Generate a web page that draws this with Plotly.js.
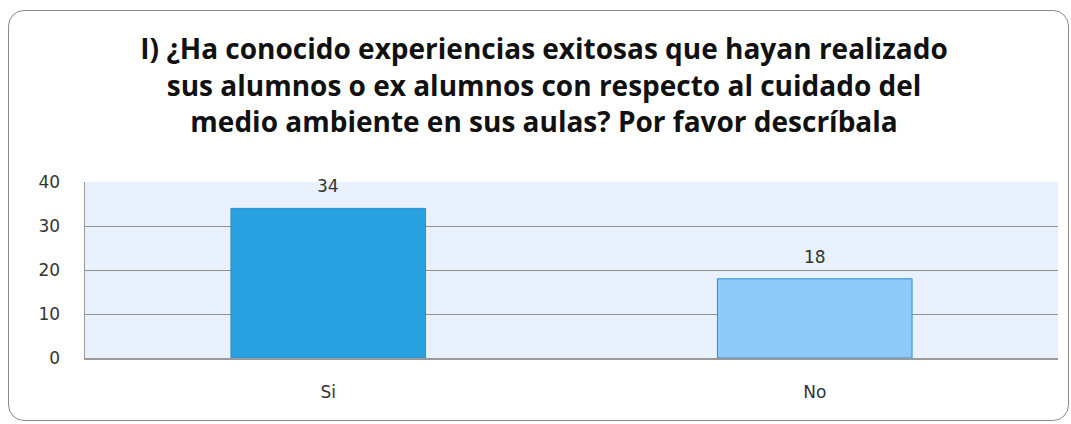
<!DOCTYPE html>
<html>
<head>
<meta charset="utf-8">
<script src="https://cdn.plot.ly/plotly-3.0.1.min.js"></script>
<style>
  html, body { margin: 0; padding: 0; background: #ffffff; }
  #wrap { position: relative; width: 1071px; height: 424px; overflow: hidden; }
  #frame { position: absolute; left: 8px; top: 10px; width: 1061px; height: 411px;
           border: 1px solid #8a8a8a; border-radius: 16px; box-sizing: border-box; }
  #chart { position: absolute; left: 0; top: 0; width: 1071px; height: 424px; }
</style>
</head>
<body>
<div id="wrap">
  <div id="frame"></div>
  <div id="chart"></div>
</div>
<script>
const categories = ["Si", "No"];
const values = [34, 18];
const barColors = ["#29A0E0", "#8DCAFA"];
const yTickValues = [0, 10, 20, 30, 40];
const titleText = "I) ¿Ha conocido experiencias exitosas que hayan realizado<br>sus alumnos o ex alumnos con respecto al cuidado del<br>medio ambiente en sus aulas? Por favor descríbala";

const trace = {
  type: "bar",
  x: categories,
  y: values,
  marker: { color: barColors, line: { color: "#2B8ED0", width: 1 } },
  hoverinfo: "none"
};

const annotations = categories.map((c, i) => ({
  x: c, y: values[i], xref: "x", yref: "y",
  text: String(values[i]), showarrow: false,
  yanchor: "bottom", yshift: 10,
  font: { family: "DejaVu Sans, Verdana, sans-serif", size: 17, color: "#333333" }
}));

const layout = {
  width: 1071, height: 424,
  margin: { l: 85, r: 13, t: 182, b: 66 },
  paper_bgcolor: "rgba(0,0,0,0)",
  plot_bgcolor: "#E8F1FC",
  bargap: 0.6,
  showlegend: false,
  title: {
    text: titleText,
    xref: "container", yref: "container",
    x: 0.508, xanchor: "center",
    y: 0.86, yanchor: "top",
    font: { family: "Open Sans, Lato, sans-serif", size: 28, color: "#111111", weight: "bold" }
  },
  xaxis: {
    type: "category",
    showline: true, linecolor: "#9a9a9a", linewidth: 1.5,
    showgrid: false,
    ticks: "outside", ticklen: 18, tickcolor: "rgba(0,0,0,0)",
    tickfont: { family: "DejaVu Sans, Verdana, sans-serif", size: 17, color: "#333333" },
    fixedrange: true
  },
  yaxis: {
    range: [0, 40],
    tickvals: yTickValues,
    showline: true, linecolor: "#9a9a9a", linewidth: 1.5,
    showgrid: true, gridcolor: "#8f8f8f", gridwidth: 1,
    zeroline: false,
    ticks: "outside", ticklen: 20, tickcolor: "rgba(0,0,0,0)",
    tickfont: { family: "DejaVu Sans, Verdana, sans-serif", size: 17, color: "#333333" },
    fixedrange: true
  },
  annotations: annotations
};

Plotly.newPlot("chart", [trace], layout, { displayModeBar: false, staticPlot: true });
</script>
</body>
</html>
